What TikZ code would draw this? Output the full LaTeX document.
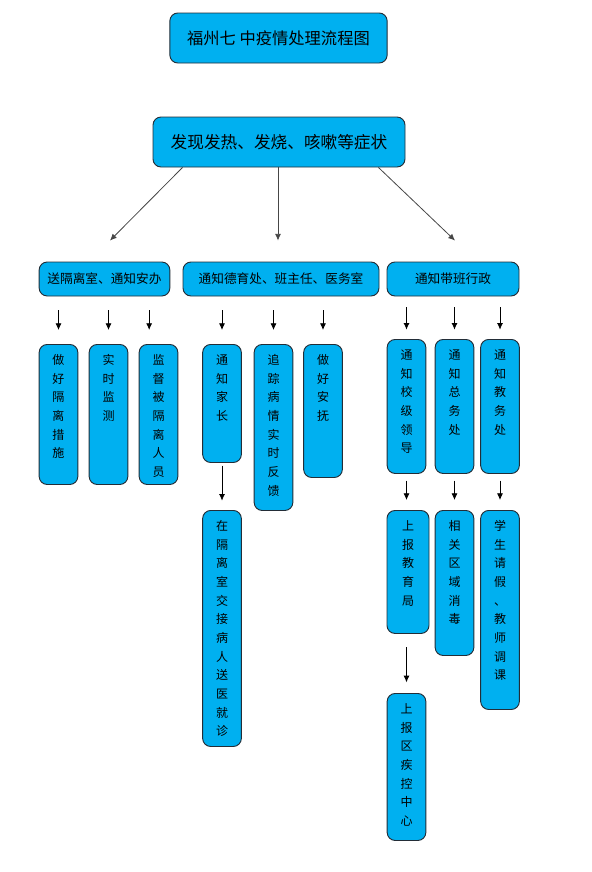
\documentclass[tikz,border=0pt]{standalone}
\usepackage{fontspec}
\setmainfont{Noto Sans CJK SC}
\usetikzlibrary{positioning, arrows.meta, calc}
\definecolor{flowcyan}{RGB}{0,176,240}
\definecolor{flowedge}{RGB}{35,45,55}
\definecolor{flowgray}{RGB}{70,70,70}

\begin{document}
\begin{tikzpicture}[x=0.75pt, y=-0.75pt,
  box/.style={rectangle, rounded corners=6pt, draw=flowedge, line width=0.7pt,
              fill=flowcyan, text centered, inner sep=0pt},
  row/.style={box, minimum height=25.5pt, font=\fontsize{9.5pt}{11pt}\selectfont},
  col/.style={box, anchor=north, minimum width=29pt, text width=9pt, align=center,
              font=\fontsize{9pt}{14pt}\selectfont,
              text height=15pt, text depth={#1*0.75pt-15pt}},
  arr/.style={-{Latex[length=5pt,width=4.5pt]}, line width=0.6pt, black},
  sarr/.style={arr, color=flowgray},
  down/.style={arr, shorten <=10.5pt, shorten >=10.5pt}
]
  \useasboundingbox (0,0) rectangle (592,872);

  % Title and trigger
  \node[box, minimum width=163pt, minimum height=37.5pt,
        font=\fontsize{12.2pt}{14pt}\selectfont] (title) at (278.5,38) {福州七 中疫情处理流程图};
  \node[box, minimum width=189pt, minimum height=37.5pt,
        font=\fontsize{12.5pt}{15pt}\selectfont] (sym) at (279,142) {发现发热、发烧、咳嗽等症状};

  % Row 2 — three branches
  \node[row, minimum width=98pt]  (ward)   at (104.5,279) {送隔离室、通知安办};
  \node[row, minimum width=147pt] (office) at (281,279)   {通知德育处、班主任、医务室};
  \node[row, minimum width=99pt]  (duty)   at (453,279)   {通知带班行政};

  % Row 3 — vertical boxes
  \node[col=140] (measures)  at (58.5,344)  {做\\好\\隔\\离\\措\\施};
  \node[col=140] (monitor)   at (108.5,344) {实\\时\\监\\测};
  \node[col=140] (supervise) at (158.5,344) {监\\督\\被\\隔\\离\\人\\员};
  \node[col=118] (parents)   at (222,344)   {通\\知\\家\\长};
  \node[col=166] (track)     at (273.5,344) {追\\踪\\病\\情\\实\\时\\反\\馈};
  \node[col=133] (comfort)   at (323,344)   {做\\好\\安\\抚};
  \node[col=134] (leaders)   at (406.5,339) {通\\知\\校\\级\\领\\导};
  \node[col=134] (general)   at (454.5,339) {通\\知\\总\\务\\处};
  \node[col=134] (academic)  at (500,339)   {通\\知\\教\\务\\处};

  % Row 4 and 5
  \node[col=236] (handover) at (222,510) {在\\隔\\离\\室\\交\\接\\病\\人\\送\\医\\就\\诊};
  \node[col=123, minimum width=31.5pt] (bureau) at (408,510) {上\\报\\教\\育\\局};
  \node[col=145] (disinfect) at (454.5,510) {相\\关\\区\\域\\消\\毒};
  \node[col=199] (leave)     at (500,510)   {学\\生\\请\\假\\、\\教\\师\\调\\课};
  \node[col=147] (cdc)       at (406.5,693) {上\\报\\区\\疾\\控\\中\\心};

  % Arrows from the trigger
  \draw[sarr] ($(sym.south west)+(30,0)$) -- ($(ward.north)+(5.5,-21)$);
  \draw[sarr] ($(sym.south)+(-1,0)$) -- ($(sym.south |- office.north)+(-1,-21)$);
  \draw[sarr] ($(sym.south east)+(-27,0)$) -- ($(duty.north)+(2,-21)$);

  % Arrows into row 3
  \coordinate (supin) at ([xshift=-7pt]supervise.north);
  \draw[down] (measures.north |- ward.south) -- (measures.north);
  \draw[down] (monitor.north |- ward.south) -- (monitor.north);
  \draw[down] (supin |- ward.south) -- (supin);
  \draw[down] (parents.north |- office.south) -- (parents.north);
  \draw[down] (track.north |- office.south) -- (track.north);
  \draw[down] (comfort.north |- office.south) -- (comfort.north);
  \draw[down, shorten <=8pt, shorten >=7pt] (leaders.north |- duty.south) -- (leaders.north);
  \draw[down, shorten <=8pt, shorten >=7pt] (general.north |- duty.south) -- (general.north);
  \draw[down, shorten <=8pt, shorten >=7pt] (academic.north |- duty.south) -- (academic.north);

  % Arrows further down
  \draw[arr, shorten <=2pt, shorten >=7pt] (parents.south) -- (handover.north);
  \draw[arr, shorten <=5pt, shorten >=7.5pt] (leaders.south) -- (leaders.south |- bureau.north);
  \draw[arr, shorten <=5pt, shorten >=7.5pt] (general.south) -- (disinfect.north);
  \draw[arr, shorten <=5pt, shorten >=7.5pt] (academic.south) -- (leave.north);
  \draw[arr, shorten <=10pt, shorten >=8pt] (cdc.north |- bureau.south) -- (cdc.north);
\end{tikzpicture}
\end{document}
